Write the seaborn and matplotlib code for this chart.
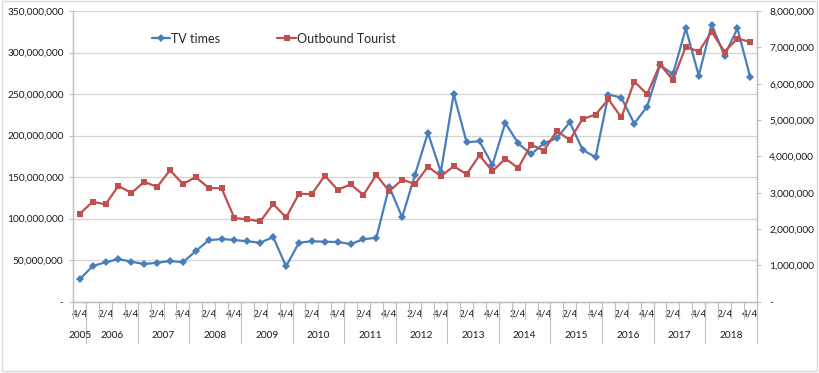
import matplotlib.pyplot as plt
import matplotlib.transforms as mtransforms
from matplotlib.lines import Line2D
from matplotlib.patches import Rectangle
from matplotlib.ticker import FuncFormatter, FixedLocator
import pandas as pd
import seaborn as sns

# quarterly data, 2005 Q4 .. 2018 Q4
quarters = ["4/4"] + ["1/4", "2/4", "3/4", "4/4"] * 13
years = ["2005"] + [str(y) for y in range(2006, 2019) for _ in range(4)]
year_names = [str(y) for y in range(2005, 2019)]

tv_times = [27.0, 43.0, 47.5, 51.4, 48.2, 45.4, 47.0, 49.0, 47.5, 61.1,
            74.0, 75.5, 74.3, 72.8, 71.1, 77.9, 42.6, 71.1, 72.8, 72.3,
            71.9, 69.5, 75.2, 77.1, 138.6, 101.7, 153.0, 203.3, 156.3, 250.2,
            192.0, 193.2, 164.7, 215.3, 190.8, 177.6, 190.8, 197.0, 216.1, 182.8,
            174.0, 249.4, 245.8, 214.5, 235.0, 284.8, 274.0, 329.0, 272.3, 333.4,
            296.4, 329.0, 270.0]  # millions
outbound = [2.42, 2.75, 2.68, 3.19, 2.99, 3.30, 3.16, 3.62, 3.24, 3.43,
            3.13, 3.12, 2.30, 2.27, 2.21, 2.69, 2.32, 2.97, 2.96, 3.47,
            3.08, 3.23, 2.94, 3.49, 3.04, 3.36, 3.24, 3.72, 3.45, 3.73,
            3.51, 4.03, 3.59, 3.94, 3.68, 4.32, 4.16, 4.70, 4.45, 5.03,
            5.15, 5.57, 5.07, 6.06, 5.71, 6.53, 6.10, 7.02, 6.88, 7.43,
            6.88, 7.24, 7.15]  # millions

df = pd.DataFrame({
    "pos": range(len(quarters)),
    "quarter": quarters,
    "year": years,
    "tv": [v * 1e6 for v in tv_times],
    "tourist": [v * 1e6 for v in outbound],
})

sns.set_theme(style="white")
plt.rcParams["font.family"] = ["Lato", "DejaVu Sans"]

BLUE = "#4A7EBB"
RED = "#C0504D"
GRID = "#D4D4D4"
AXIS = "#BFBFBF"

fig = plt.figure(figsize=(8.19, 3.73), dpi=100)
ax = fig.add_axes([0.0895, 0.191, 0.8345, 0.7795])
ax2 = ax.twinx()

sns.lineplot(data=df, x="pos", y="tv", ax=ax, color=BLUE, lw=1.6,
             marker="D", markersize=3.6, markeredgewidth=0, zorder=3)
sns.lineplot(data=df, x="pos", y="tourist", ax=ax2, color=RED, lw=1.6,
             marker="s", markersize=4.6, markeredgewidth=0, zorder=3)

n = len(df)
ax.set_xlim(-0.5, n - 0.5)
ax.set_ylim(0, 350e6)
ax2.set_ylim(0, 8e6)
ax.set_yticks(range(0, 350_000_001, 50_000_000))
ax2.set_yticks(range(0, 8_000_001, 1_000_000))

fmt = FuncFormatter(lambda v, p: "-" if v == 0 else f"{v:,.0f}")
ax.yaxis.set_major_formatter(fmt)
ax2.yaxis.set_major_formatter(fmt)

ax.grid(axis="y", color=GRID, lw=0.9)
ax.set_axisbelow(True)
ax.set_xlabel("")
ax.set_ylabel("")
ax2.set_ylabel("")

for a in (ax, ax2):
    a.spines["top"].set_visible(False)
    for side in ("left", "right", "bottom"):
        a.spines[side].set_color(AXIS)
        a.spines[side].set_linewidth(0.9)
ax.tick_params(axis="y", length=3, width=0.8, color=AXIS, pad=4,
               labelsize=7.3, labelcolor="#1a1a1a", left=True)
ax2.tick_params(axis="y", length=3, width=0.8, color=AXIS, pad=6,
                labelsize=7.3, labelcolor="#1a1a1a", right=True)

# quarter labels every other category, tick marks on category boundaries
shown = [i for i in range(n) if i % 2 == 0]
ax.set_xticks(shown)
ax.set_xticklabels([quarters[i] for i in shown])
ax.xaxis.set_minor_locator(FixedLocator([i - 0.5 for i in range(n + 1)]))
ax.tick_params(axis="x", which="major", length=0, pad=5.5, labelsize=7.3,
               labelcolor="#1a1a1a")
ax.tick_params(axis="x", which="minor", length=12, width=0.8, color=AXIS,
               bottom=True)

# year group labels and separators
trans = mtransforms.blended_transform_factory(ax.transData, ax.transAxes)
for name in year_names:
    idx = [i for i in range(n) if years[i] == name]
    center = (idx[0] + idx[-1]) / 2
    ax.text(center, -0.115, name, transform=trans, ha="center", va="center",
            fontsize=7.3, color="#1a1a1a")
    edge = idx[-1] + 0.5
    ax.add_line(Line2D([edge, edge], [0, -0.143], transform=trans,
                       color=AXIS, lw=0.8, clip_on=False))

handles = [
    Line2D([], [], color=BLUE, lw=1.6, marker="D", markersize=3.6, markeredgewidth=0),
    Line2D([], [], color=RED, lw=1.6, marker="s", markersize=4.6, markeredgewidth=0),
]
ax.legend(handles, ["TV times", "Outbound Tourist"], ncol=2, frameon=False,
          loc="center left", bbox_to_anchor=(0.098, 0.905), fontsize=9,
          handlelength=1.5, handletextpad=0.05, columnspacing=4.6)

fig.patches.append(Rectangle((0.002, 0.006), 0.995, 0.99, transform=fig.transFigure,
                             fill=False, ec="#D9D9D9", lw=1))

fig.savefig("out.png", dpi=100)
